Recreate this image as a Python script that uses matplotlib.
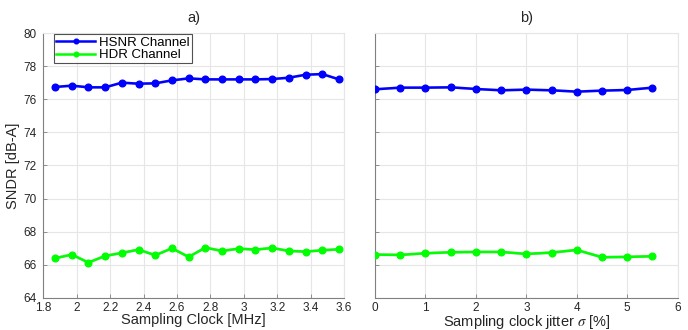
import matplotlib
matplotlib.use("Agg")
import matplotlib.pyplot as plt

plt.rcParams['font.family'] = ['Liberation Sans', 'DejaVu Sans']
plt.rcParams['mathtext.fontset'] = 'stix'

clock_mhz = [1.87, 1.97, 2.07, 2.17, 2.27, 2.37, 2.47, 2.57, 2.67, 2.77,
             2.87, 2.97, 3.07, 3.17, 3.27, 3.37, 3.47, 3.57]
hsnr_clock = [76.74, 76.82, 76.72, 76.72, 77.0, 76.94, 76.96, 77.14, 77.26, 77.2,
              77.2, 77.2, 77.2, 77.22, 77.3, 77.48, 77.52, 77.2]
hdr_clock = [66.4, 66.62, 66.14, 66.54, 66.72, 66.92, 66.58, 67.0, 66.48, 67.04,
             66.84, 66.98, 66.92, 67.02, 66.84, 66.8, 66.88, 66.94]

jitter_pct = [0, 0.5, 1, 1.5, 2, 2.5, 3, 3.5, 4, 4.5, 5, 5.5]
hsnr_jitter = [76.6, 76.7, 76.7, 76.72, 76.62, 76.54, 76.58, 76.54, 76.46, 76.52, 76.56, 76.7]
hdr_jitter = [66.62, 66.6, 66.7, 66.76, 66.78, 66.78, 66.66, 66.74, 66.9, 66.46, 66.48, 66.52]

xticks_a = [1.8, 2, 2.2, 2.4, 2.6, 2.8, 3, 3.2, 3.4, 3.6]
xticklabels_a = ['1.8', '2', '2.2', '2.4', '2.6', '2.8', '3', '3.2', '3.4', '3.6']
xticks_b = [0, 1, 2, 3, 4, 5, 6]
yticks = [64, 66, 68, 70, 72, 74, 76, 78, 80]

BLUE = '#0000ff'
GREEN = '#00ff00'
TXT = '#262626'

fig = plt.figure(figsize=(6.88, 3.30), dpi=100)
axA = fig.add_axes([0.063, 0.097, 0.437, 0.803])
axB = fig.add_axes([0.545, 0.097, 0.440, 0.803])

def style(ax):
    ax.grid(True, color='#e6e6e6', linewidth=0.8)
    ax.set_axisbelow(True)
    for s in ['top', 'right']:
        ax.spines[s].set_color('#e6e6e6')
        ax.spines[s].set_linewidth(0.8)
    for s in ['left', 'bottom']:
        ax.spines[s].set_color('#808080')
        ax.spines[s].set_linewidth(0.8)
    ax.tick_params(direction='in', length=3, width=0.6, color='#808080',
                   labelsize=8.5, labelcolor=TXT)
    ax.tick_params(axis='x', pad=3)
    ax.tick_params(axis='y', pad=5)
    ax.set_ylim(64, 80)
    ax.set_yticks(yticks)

def plot_series(ax, x, y, color, label=None):
    ax.plot(x, y, color='#b0b0b0', linewidth=2.0, alpha=0.6, zorder=2)
    ax.plot(x, y, color=color, linewidth=1.8, marker='o', markersize=4.8,
            markeredgecolor=color, markerfacecolor=color, label=label, zorder=3)

plot_series(axA, clock_mhz, hsnr_clock, BLUE, 'HSNR Channel')
plot_series(axA, clock_mhz, hdr_clock, GREEN, 'HDR Channel')
style(axA)
axA.set_xlim(1.8, 3.6)
axA.set_xticks(xticks_a)
axA.set_xticklabels(xticklabels_a)
axA.set_xlabel('Sampling Clock [MHz]', fontsize=10.5, color=TXT, labelpad=-1)
axA.set_ylabel('SNDR [dB-A]', fontsize=10.5, color=TXT, labelpad=2)
axA.set_title('a)', fontsize=10.5, color=TXT, pad=8)
leg = axA.legend(loc='upper left', bbox_to_anchor=(0.035, 0.995), fontsize=9.5,
                 frameon=True, fancybox=False,
                 borderpad=0.15, labelspacing=0.05, handlelength=3.0,
                 handletextpad=0.3, borderaxespad=0.0, markerscale=0.7)
leg.get_frame().set_edgecolor('#262626')
leg.get_frame().set_linewidth(0.8)

plot_series(axB, jitter_pct, hsnr_jitter, BLUE)
plot_series(axB, jitter_pct, hdr_jitter, GREEN)
style(axB)
axB.set_xlim(0, 6)
axB.set_xticks(xticks_b)
axB.set_yticklabels([])
axB.set_xlabel(r'Sampling clock jitter $\sigma$ [%]', fontsize=10.5, color=TXT, labelpad=-1)
axB.set_title('b)', fontsize=10.5, color=TXT, pad=8)

fig.savefig('out.png', dpi=100)
